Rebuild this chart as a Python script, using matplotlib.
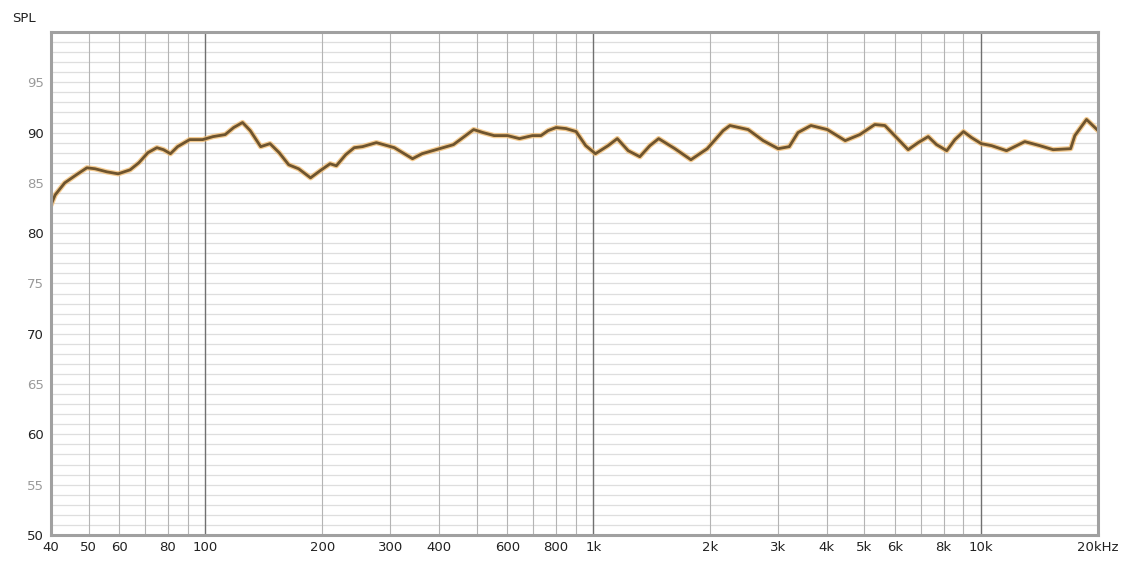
import matplotlib
matplotlib.use("Agg")
import matplotlib.pyplot as plt
from matplotlib.ticker import FixedLocator, NullFormatter

# frequency response (Hz, dB SPL)
freq_hz = [40, 41.0, 43.4, 46.5, 49.5, 52.0, 55.7, 59.6, 64.0, 67.4,
           71.1, 75.0, 78.0, 81.3, 84.8, 91.1, 98.4, 104.7, 112.5, 118.3,
           124.7, 130.5, 138.9, 146.8, 155, 164, 174, 186.7, 197.5, 209.7,
           217.6, 230, 242, 254, 276, 307, 342, 362, 410, 436,
           465, 491.5, 520, 555, 601, 645, 697, 733, 765, 802,
           850, 903, 956, 1013, 1092, 1153, 1230, 1318, 1399, 1474,
           1623, 1785, 1967, 2162, 2250, 2507, 2741, 2996, 3200, 3370,
           3640, 4010, 4460, 4864, 5317, 5644, 6049, 6480, 6877, 7300,
           7670, 8150, 8553, 9000, 9440, 10000, 10630, 11620, 12950, 14160,
           15320, 17000, 17430, 18680, 20000]
spl_db = [82.8, 83.8, 85.0, 85.8, 86.5, 86.4, 86.1, 85.9, 86.3, 87.0,
          88.0, 88.5, 88.3, 87.9, 88.6, 89.3, 89.3, 89.6, 89.8, 90.5,
          91.0, 90.2, 88.6, 88.9, 88.0, 86.8, 86.4, 85.5, 86.2, 86.9,
          86.7, 87.8, 88.5, 88.6, 89.0, 88.5, 87.4, 87.9, 88.5, 88.8,
          89.6, 90.3, 90.0, 89.7, 89.7, 89.4, 89.7, 89.7, 90.2, 90.5,
          90.4, 90.1, 88.7, 87.9, 88.7, 89.4, 88.2, 87.6, 88.7, 89.4,
          88.4, 87.3, 88.4, 90.2, 90.7, 90.3, 89.2, 88.4, 88.6, 90.0,
          90.7, 90.3, 89.2, 89.8, 90.8, 90.7, 89.5, 88.3, 89.0, 89.6,
          88.8, 88.2, 89.3, 90.1, 89.5, 88.9, 88.7, 88.2, 89.1, 88.7,
          88.3, 88.4, 89.7, 91.3, 90.2]

x_ticks = [40, 50, 60, 80, 100, 200, 300, 400, 600, 800,
           1000, 2000, 3000, 4000, 5000, 6000, 8000, 10000, 20000]
x_labels = ["40", "50", "60", "80", "100", "200", "300", "400", "600", "800",
            "1k", "2k", "3k", "4k", "5k", "6k", "8k", "10k", "20kHz"]
y_ticks = [50, 55, 60, 65, 70, 75, 80, 85, 90, 95]

fig = plt.figure(figsize=(11.3, 5.69), dpi=100)
ax = fig.add_axes([0.0451, 0.0598, 0.9266, 0.884])
ax.set_xscale("log")
ax.set_xlim(40, 20000)
ax.set_ylim(50, 100)

# grid: 1 dB horizontal lines, 1..9 vertical lines, darker decades
for db in range(51, 100):
    ax.axhline(db, color="#dedede", lw=0.9, zorder=1)
grid_f = [m * 10 ** e for e in range(1, 5) for m in range(1, 10)]
for f in grid_f:
    if 40 < f < 20000:
        dec = f in (100, 1000, 10000)
        ax.axvline(f, color="#707070" if dec else "#b4b4b4",
                   lw=1.0 if dec else 0.8, zorder=1)

ax.plot(freq_hz, spl_db, color="#f2bb6e", lw=3.8, alpha=0.75, zorder=3,
        solid_joinstyle="round", solid_capstyle="round")
ax.plot(freq_hz, spl_db, color="#6e542e", lw=2.0, zorder=4,
        solid_joinstyle="round", solid_capstyle="round")

ax.xaxis.set_major_locator(FixedLocator(x_ticks))
ax.set_xticklabels(x_labels)
ax.xaxis.set_minor_locator(FixedLocator([]))
ax.xaxis.set_minor_formatter(NullFormatter())
ax.set_yticks(y_ticks)
ax.tick_params(axis="both", length=0, labelsize=9.5, colors="#222222")
ax.tick_params(axis="x", pad=4)
ax.tick_params(axis="y", pad=5)
for lbl, v in zip(ax.get_yticklabels(), y_ticks):
    lbl.set_color("#222222" if v % 10 == 0 else "#9a9a9a")

for side in ["left", "top", "right", "bottom"]:
    ax.spines[side].set_color("#a0a0a0")
    ax.spines[side].set_linewidth(2.2)
    ax.spines[side].set_zorder(5)

fig.text(12 / 1130, 1 - 18 / 569, "SPL", fontsize=9.5, color="#222222",
         ha="left", va="center")

fig.savefig("out.png", dpi=100, facecolor="white")
